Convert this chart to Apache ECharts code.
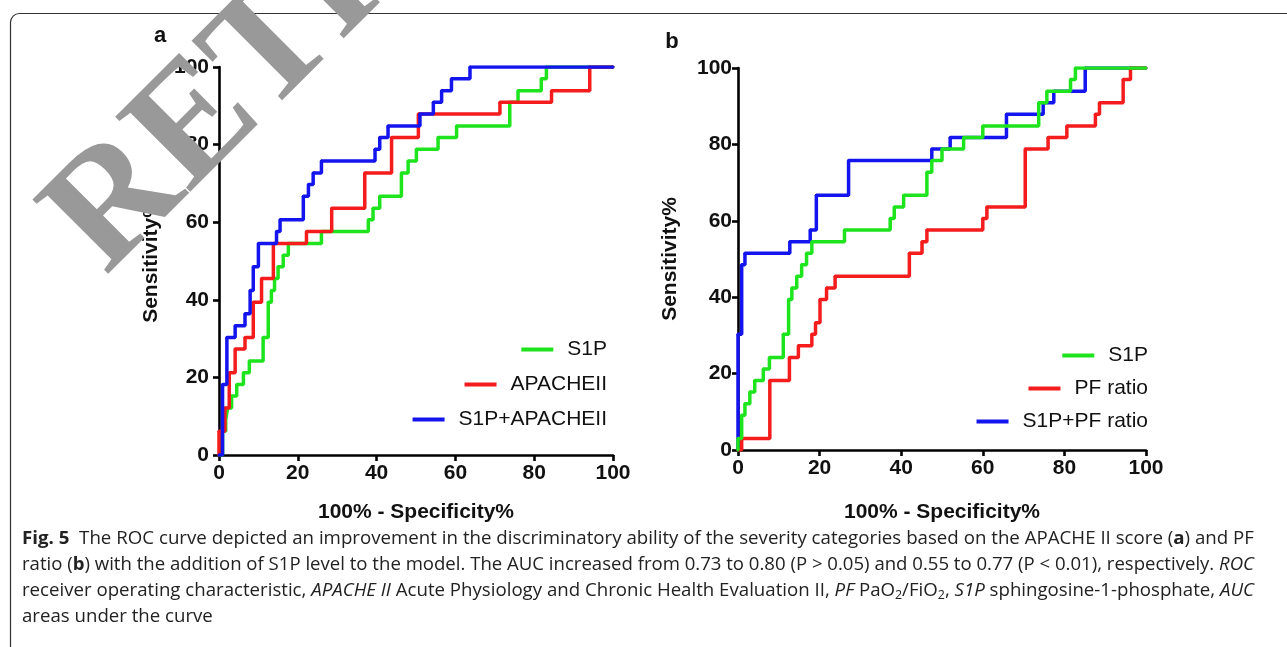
<!DOCTYPE html>
<html>
<head>
<meta charset="utf-8">
<script src="https://cdn.jsdelivr.net/npm/echarts@6/dist/echarts.min.js"></script>
<style>
html,body{margin:0;padding:0;background:#fff;}
#chart{width:1287px;height:647px;}
</style>
</head>
<body>
<div id="chart"></div>
<script>
// ---------- DATA (100% - Specificity%, Sensitivity%) ----------
const xTicks = [0, 20, 40, 60, 80, 100];
const yTicks = [0, 20, 40, 60, 80, 100];

const namesA = ['S1P', 'APACHEII', 'S1P+APACHEII'];
const namesB = ['S1P', 'PF ratio', 'S1P+PF ratio'];

const aS1P = [[0,0],[0.9,6.1],[1.7,9.1],[2.2,12.1],[3.2,15.2],[4.5,18.2],[6.2,21.2],[7.7,24.2],[11.2,30.3],[12.5,39.4],[13.3,42.4],[14.1,45.5],[15.0,48.5],[16.3,51.5],[17.6,54.5],[26.0,57.6],[37.9,60.6],[39.1,63.6],[40.8,66.7],[46.3,72.7],[48.0,75.8],[50.1,78.8],[55.6,81.8],[60.3,84.8],[73.8,90.9],[75.9,93.9],[81.8,97.0],[83.1,100],[100,100]];
const aAPACHE = [[0,0],[0,6.1],[1.5,12.1],[2.6,21.2],[4.1,27.3],[6.6,30.3],[8.7,39.4],[10.8,45.5],[13.8,54.5],[22.2,57.6],[28.6,63.6],[37.0,72.7],[43.8,81.8],[50.6,87.9],[71.3,90.9],[84.4,93.9],[94.1,100],[100,100]];
const aCombo = [[0,0],[0.9,18.2],[2.0,30.3],[4.1,33.3],[6.6,36.4],[7.9,42.4],[8.7,48.5],[10.0,54.5],[14.6,57.6],[15.5,60.6],[21.4,66.7],[22.7,69.7],[23.9,72.7],[26.0,75.8],[39.6,78.8],[40.8,81.8],[42.9,84.8],[51.0,87.9],[54.4,90.9],[56.5,93.9],[59.0,97.0],[63.7,100],[100,100]];

const bS1P = [[0,0],[0,3.0],[0.9,9.1],[1.7,12.1],[2.9,15.2],[4.1,18.2],[6.2,21.2],[7.7,24.2],[11.1,30.3],[12.4,39.4],[13.2,42.4],[14.4,45.5],[15.6,48.5],[16.8,51.5],[18.1,54.5],[26.1,57.6],[37.3,60.6],[38.3,63.6],[40.6,66.7],[46.3,72.7],[47.5,75.8],[50.0,78.8],[55.3,81.8],[60.0,84.8],[73.7,90.9],[75.7,93.9],[81.5,97.0],[82.7,100],[100,100]];
const bPF = [[0,0],[0.9,3.0],[7.8,18.2],[12.6,24.2],[14.8,27.3],[18.1,30.3],[19.0,33.3],[20.1,39.4],[21.7,42.4],[23.8,45.5],[42.0,51.5],[45.1,54.5],[46.3,57.6],[60.0,60.6],[61.0,63.6],[70.4,78.8],[76.0,81.8],[80.6,84.8],[87.6,87.9],[88.6,90.9],[94.4,97.0],[96.2,100],[100,100]];
const bCombo = [[0,0],[0,30.3],[0.9,48.5],[1.7,51.5],[12.7,54.5],[17.7,57.6],[19.2,66.7],[27.1,75.8],[47.5,78.8],[52.0,81.8],[65.8,87.9],[74.8,90.9],[77.4,93.9],[85.1,100],[100,100]];

const xTitle = '100% - Specificity%';
const yTitle = 'Sensitivity%';
const panelLabels = ['a', 'b'];
const watermark = 'RETRACTED';

const captionLines = [
  [['b','Fig. 5'],['n','  The ROC curve depicted an improvement in the discriminatory ability of the severity categories based on the APACHE II score ('],['b','a'],['n',') and PF']],
  [['n','ratio ('],['b','b'],['n',') with the addition of S1P level to the model. The AUC increased from 0.73 to 0.80 (P > 0.05) and 0.55 to 0.77 (P < 0.01), respectively. '],['i','ROC']],
  [['n','receiver operating characteristic, '],['i','APACHE II'],['n',' Acute Physiology and Chronic Health Evaluation II, '],['i','PF'],['n',' PaO'],['s','2'],['n','/FiO'],['s','2'],['n',', '],['i','S1P'],['n',' sphingosine-1-phosphate, '],['i','AUC']],
  [['n','areas under the curve']]
];

// ---------- STYLE ----------
const COLORS = {green:'#1ee41e', red:'#f41c1c', blue:'#1414ee'};
const FONT = '"Liberation Sans", Arial, sans-serif';
const CAPFONT = '"Open Sans", "Liberation Sans", sans-serif';
const CAPSIZE = 18;

const chart = echarts.init(document.getElementById('chart'));

function axisX(gridIndex, gap) {
  return {
    type:'value', gridIndex, min:0, max:100, interval:20,
    name:xTitle, nameLocation:'middle', nameGap:gap,
    nameTextStyle:{fontFamily:FONT, fontWeight:'bold', fontSize:21, color:'#111'},
    axisLine:{show:true, onZero:false, lineStyle:{color:'#000', width:2.6}},
    axisTick:{show:true, inside:false, length:6, lineStyle:{color:'#000', width:2.6}},
    axisLabel:{fontFamily:FONT, fontWeight:'bold', fontSize:21, color:'#111', margin:8,
      formatter:(v)=>String(xTicks[xTicks.indexOf(v)])},
    splitLine:{show:false}
  };
}
function axisY(gridIndex, margin) {
  return {
    type:'value', gridIndex, min:0, max:100, interval:20,
    name:yTitle, nameLocation:'middle', nameGap:57, nameRotate:90,
    nameTextStyle:{fontFamily:FONT, fontWeight:'bold', fontSize:21, color:'#111'},
    axisLine:{show:true, onZero:false, lineStyle:{color:'#000', width:2.6}},
    axisTick:{show:true, inside:false, length:6, lineStyle:{color:'#000', width:2.6}},
    axisLabel:{fontFamily:FONT, fontWeight:'bold', fontSize:21, color:'#111', margin:margin,
      formatter:(v)=>String(yTicks[yTicks.indexOf(v)])},
    splitLine:{show:false}
  };
}
function lineSeries(name, data, color, xi, z) {
  return {
    type:'line', name, data, xAxisIndex:xi, yAxisIndex:xi, step:'end',
    symbol:'circle', symbolSize:3, showAllSymbol:true, z,
    lineStyle:{color, width:3.5}, itemStyle:{color}, emphasis:{disabled:true}, animation:false
  };
}
function legendItem(name, right, top) {
  return {
    data:[{name, icon:'rect'}], right, top, orient:'horizontal', padding:0,
    itemWidth:32, itemHeight:4, itemGap:0, selectedMode:false,
    textStyle:{fontFamily:FONT, fontSize:21, color:'#111', padding:[0,0,0,9]}
  };
}

// caption builder (measured so each full line is justified to the text block width)
const mc = document.createElement('canvas').getContext('2d');
const segFont = {
  n: `normal 400 ${CAPSIZE}px ${CAPFONT}`,
  b: `normal 700 ${CAPSIZE}px ${CAPFONT}`,
  i: `italic 400 ${CAPSIZE}px ${CAPFONT}`,
  s: `normal 400 ${CAPSIZE-6}px ${CAPFONT}`
};
function lineWidth(segs){ let w=0; segs.forEach(([k,t])=>{ mc.font=segFont[k]; w+=mc.measureText(t).width; }); return w; }
const capLeft = 22, capRight = 1254, capTop = 539, capStep = 26;
const scales = captionLines.map((l,i)=> i<3 ? (capRight-capLeft)/lineWidth(l) : null);
const avgScale = (scales[0]+scales[1]+scales[2])/3;
const richStyles = {
  n:{fontFamily:CAPFONT, fontSize:CAPSIZE, fill:'#222', lineHeight:22},
  b:{fontFamily:CAPFONT, fontSize:CAPSIZE, fontWeight:'bold', fill:'#222', lineHeight:22},
  i:{fontFamily:CAPFONT, fontSize:CAPSIZE, fontStyle:'italic', fill:'#222', lineHeight:22},
  s:{fontFamily:CAPFONT, fontSize:CAPSIZE-6, fill:'#222', lineHeight:22, verticalAlign:'bottom', padding:[9,0,0,0]}
};
const captionGraphics = captionLines.map((segs,i)=>({
  type:'text', x:capLeft, y:capTop + i*capStep, scaleX: scales[i] || avgScale, z:10,
  style:{text: segs.map(([k,t])=>`{${k}|${t}}`).join(''), rich:richStyles, verticalAlign:'middle', align:'left'}
}));

const option = {
  animation:false,
  backgroundColor:'#fff',
  grid:[
    {left:219, right:674, top:67, bottom:192, containLabel:false},
    {left:738, right:141, top:68, bottom:197, containLabel:false}
  ],
  xAxis:[axisX(0,47), axisX(1,52)],
  yAxis:[axisY(0,10), axisY(1,6)],
  legend:[
    legendItem(namesA[0], 680, 339),
    legendItem(namesA[1], 680, 374),
    legendItem(namesA[2], 680, 409),
    legendItem(namesB[0], 139, 345),
    legendItem(namesB[1], 139, 378),
    legendItem(namesB[2], 139, 411)
  ],
  series:[
    lineSeries(namesA[0], aS1P, COLORS.green, 0, 2),
    lineSeries(namesA[1], aAPACHE, COLORS.red, 0, 3),
    lineSeries(namesA[2], aCombo, COLORS.blue, 0, 4),
    lineSeries(namesB[2], bCombo, COLORS.blue, 1, 2),
    lineSeries(namesB[1], bPF, COLORS.red, 1, 3),
    lineSeries(namesB[0], bS1P, COLORS.green, 1, 4)
  ],
  graphic:[
    {type:'rect', shape:{x:10.5, y:13.5, width:1320, height:700, r:9}, style:{fill:'none', stroke:'#333', lineWidth:1.2}, z:0, silent:true},
    {type:'text', x:160, y:36, style:{text:panelLabels[0], font:`bold 22px ${FONT}`, fill:'#111', align:'center', verticalAlign:'middle'}, z:10},
    {type:'text', x:672, y:42, style:{text:panelLabels[1], font:`bold 22px ${FONT}`, fill:'#111', align:'center', verticalAlign:'middle'}, z:10},
    ...captionGraphics,
    {type:'text', x:76, y:247, rotation:45*Math.PI/180, z:100, silent:true,
      style:{text:watermark, font:`bold 162px "Liberation Serif", "DejaVu Serif", serif`, fill:'#999', align:'left', verticalAlign:'middle'}}
  ]
};
chart.setOption(option);
</script>
</body>
</html>
